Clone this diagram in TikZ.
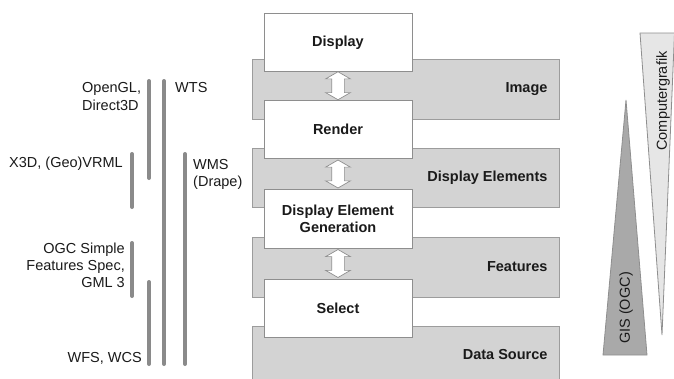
\documentclass[tikz,border=0pt]{standalone}
\usepackage{fontspec}
\setmainfont{Liberation Sans}
\usetikzlibrary{shapes.arrows,calc}
\definecolor{bandfill}{HTML}{D3D3D3}
\definecolor{bandedge}{HTML}{9C9C9C}
\definecolor{boxedge}{HTML}{8E8E8E}
\definecolor{barcol}{HTML}{8A8A8A}
\definecolor{gisfill}{HTML}{A9A9A9}
\definecolor{cgfill}{HTML}{E6E6E6}
\definecolor{txt}{HTML}{1A1A1A}
\begin{document}
\begin{tikzpicture}[x=1pt,y=-1pt,
  every node/.style={font=\fontsize{14.5}{17.3}\selectfont, text=txt},
  band/.style={draw=bandedge, fill=bandfill, line width=0.8pt, anchor=north west,
    minimum width=307pt, inner sep=0pt, outer sep=0pt},
  bandlabel/.style={anchor=east, font=\fontsize{14.5}{17.3}\selectfont\bfseries},
  stagebox/.style={draw=boxedge, fill=white, line width=0.8pt, anchor=north west,
    minimum width=148pt, minimum height=58.5pt, inner sep=0pt, outer sep=0pt,
    align=center, font=\fontsize{14.5}{17.3}\selectfont\bfseries},
  dbl/.style={double arrow, draw=boxedge, fill=white, line width=0.7pt, rotate=90,
    inner sep=6pt, double arrow head extend=6pt, double arrow tip angle=120,
    minimum height=28pt},
  bar/.style={draw=barcol, line width=4pt, line cap=round},
  lbl/.style={inner sep=0pt}
]
\useasboundingbox (0,0) rectangle (674,378);

% bands
\node[band, minimum height=60pt] (b1) at (252,59) {};
\node[band, minimum height=59pt] (b2) at (252,148) {};
\node[band, minimum height=60pt] (b3) at (252,237) {};
\node[band, minimum height=56pt] (b4) at (252,326) {};
\node[bandlabel] (l1) at ([xshift=-8pt]b1.east) {Image};
\node[bandlabel] (l2) at ([xshift=-8pt]b2.east) {Display Elements};
\node[bandlabel] (l3) at ([xshift=-8pt]b3.east) {Features};
\node[bandlabel] (l4) at ([xshift=-8pt,yshift=-1pt]b4.east) {Data Source};

% stage boxes
\node[stagebox] (disp) at (264,13) {Display};
\node[stagebox] (rend) at (264,100) {Render};
\node[stagebox] (deg) at (264,189.5) {Display Element\\Generation};
\node[stagebox] (sel) at (264,279) {Select};

% double arrows
\node[dbl] (a1) at ($(disp.south)!0.5!(rend.north)$) {};
\node[dbl] (a2) at ($(rend.south)!0.5!(deg.north)$) {};
\node[dbl] (a3) at ($(deg.south)!0.5!(sel.north)$) {};

% left bars
\draw[bar] (149,81) -- (149,178);
\draw[bar] (164,81) -- (164,364);
\draw[bar] (132,154) -- (132,207);
\draw[bar] (185,154) -- (185,364);
\draw[bar] (132,243) -- (132,296);
\draw[bar] (149,282) -- (149,364);

% bar labels
\node[lbl, anchor=west, align=left] (t1) at (82,96.5) {OpenGL,\\Direct3D};
\node[lbl, anchor=west] (t2) at (175,88) {WTS};
\node[lbl, anchor=east] (t3) at (123,164) {X3D, (Geo)VRML};
\node[lbl, anchor=west, align=left] (t4) at (193,174.5) {WMS\\(Drape)};
\node[lbl, anchor=east, align=right] (t5) at (125,265.5) {OGC Simple\\Features Spec,\\GML 3};
\node[lbl, anchor=east] (t6) at (142,358) {WFS, WCS};

% triangles
\draw[draw=boxedge, fill=gisfill, line width=0.8pt] (626,100) -- (647,355) -- (603,355) -- cycle;
\draw[draw=boxedge, fill=cgfill, line width=0.8pt] (640,33) -- (674.5,33) -- (662,335) -- cycle;
\node[rotate=90, inner sep=0pt] (gis) at (626,308) {GIS (OGC)};
\node[rotate=90, inner sep=0pt] (cg) at (663,101) {Computergrafik};
\end{tikzpicture}
\end{document}
